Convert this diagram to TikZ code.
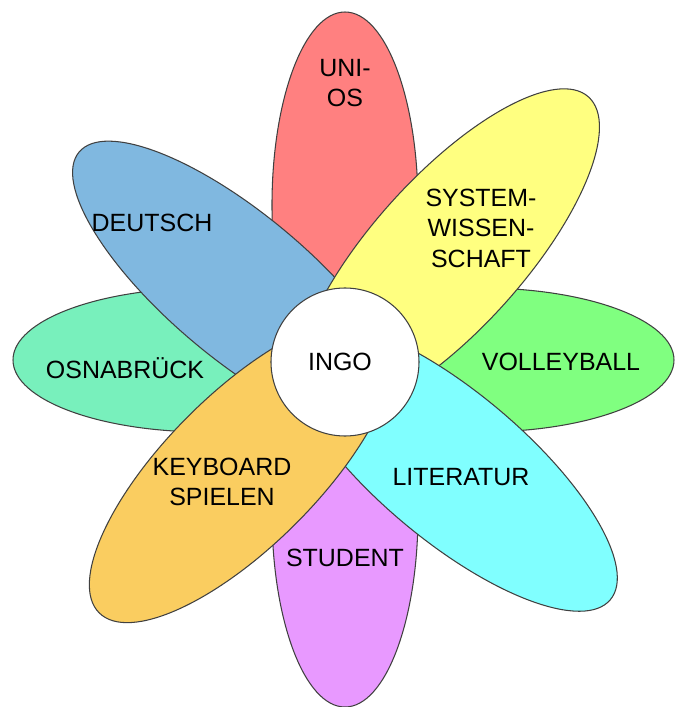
\documentclass[tikz,border=0pt]{standalone}
\usepackage{fontspec}
\setmainfont{Liberation Sans}

\definecolor{petalred}{RGB}{255,128,128}
\definecolor{petalyellow}{RGB}{255,255,128}
\definecolor{petalgreen}{RGB}{128,255,128}
\definecolor{petalmint}{RGB}{120,240,188}
\definecolor{petalblue}{RGB}{128,184,224}
\definecolor{petalcyan}{RGB}{128,255,255}
\definecolor{petalorange}{RGB}{250,205,96}
\definecolor{petalviolet}{RGB}{232,153,255}

\tikzset{
	petal/.style={draw=black!75},
	petaltext/.style={font=\fontsize{14.2}{17.4}\selectfont, align=center}
}

\begin{document}
\begin{tikzpicture}[line width=0.6pt]
	\useasboundingbox (-6.9,-6.9) rectangle (6.62,7.24);

	% petals, back to front
	\foreach \cx/\cy/\rot/\ra/\rb/\col in {
		0/3.14/90/3.86/1.46/petalred,
		-2.78/0.04/0/3.86/1.44/petalmint,
		2.72/0.04/0/3.86/1.44/petalgreen,
		0/-3.04/90/3.86/1.46/petalviolet,
		-2.10/1.50/140/4.2/1.44/petalblue,
		2.06/2.18/48/4.2/1.52/petalyellow,
		2.12/-2.08/-40/4.16/1.48/petalcyan,
		-2.06/-2.16/225/4.04/1.52/petalorange}
	\draw[petal, fill=\col] (\cx,\cy) circle [x radius=\ra, y radius=\rb, rotate=\rot];

	% middle
	\draw[petal, fill=white] (0,0) circle (1.48);

	% texts
	\node[petaltext] (ingo) at (-0.1,0) {INGO};
	\node[petaltext] (unios) at (0,5.58) {UNI-\\OS};
	\node[petaltext] (deutsch) at (-3.86,2.78) {DEUTSCH};
	\node[petaltext] (system) at (2.72,2.68) {SYSTEM-\\WISSEN-\\SCHAFT};
	\node[petaltext] (osnabrueck) at (-4.40,-0.12) {OSNABRÜCK};
	\node[petaltext] (volleyball) at (4.32,0) {VOLLEYBALL};
	\node[petaltext] (keyboard) at (-2.46,-2.40) {KEYBOARD\\SPIELEN};
	\node[petaltext] (literatur) at (2.32,-2.30) {LITERATUR};
	\node[petaltext] (student) at (0,-3.92) {STUDENT};
\end{tikzpicture}
\end{document}
